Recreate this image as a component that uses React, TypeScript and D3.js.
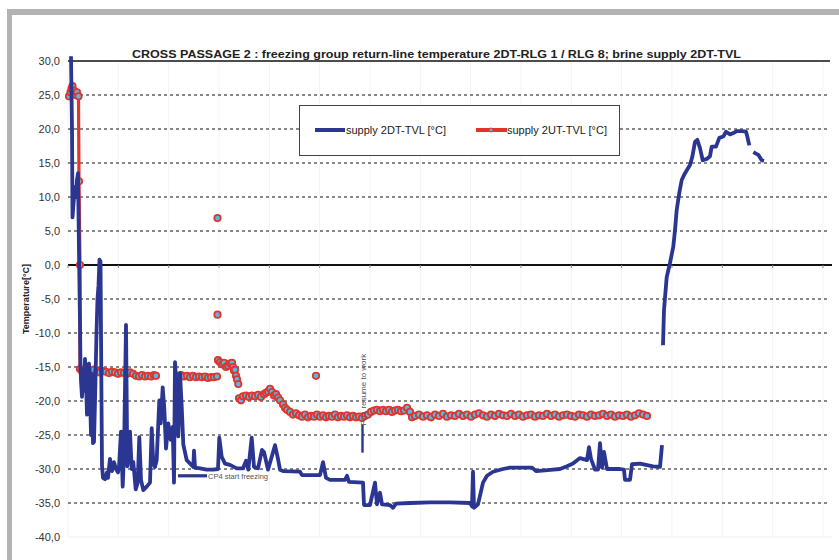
import React from 'react';
import * as d3 from 'd3';

const TITLE = 'CROSS PASSAGE 2 : freezing group return-line temperature 2DT-RLG 1 / RLG 8; brine supply 2DT-TVL';
const Y_LABEL = 'Temperature[°C]';
const SERIES_NAMES = ['supply 2DT-TVL [°C]', 'supply 2UT-TVL [°C]'];
const Y_TICKS = [30, 25, 20, 15, 10, 5, 0, -5, -10, -15, -20, -25, -30, -35, -40];
const X_MAX = 764;
const X_TICK_STEP = 50.33;
const X_TICK_COUNT = 16;

// time index, temperature (null = gap in recording)
const SUPPLY_2DT: [number, number | null][] = [
  [3, 30.7], [4, 20], [4.5, 7.0], [5.5, 9], [7, 11.5], [8, 10], [9, 12.5], [10, 13.5], [11, 2], [12, -8.5],
  [12.5, -15], [13, -17], [14, -19.4], [15, -15.5], [16, -18.5], [17, -13.8], [18, -17], [19, -22], [20, -15],
  [21, -14.5], [22, -19], [23, -25], [24, -16], [25, -26.2], [26, -26], [27, -20], [28.5, -10], [29.5, -5],
  [30.5, -3], [31.5, 0.8], [32.5, 0.5], [33, -10], [33.5, -20], [34, -29.5], [35, -31.3], [37, -31.5],
  [39, -30.5], [40, -31.3], [42, -28.5], [44, -30.3], [46, -29], [48, -30], [50, -30.5], [51, -29.7],
  [53, -24.5], [54.7, -32.6], [56, -27.7], [58, -8.8], [59.3, -29.6], [60.7, -27.7], [62, -24.5], [63.7, -30],
  [65.3, -29], [67.7, -33], [69.7, -32], [71.3, -25.3], [73, -31.6], [75.3, -33.1], [78.7, -32.6], [82, -32],
  [83.7, -24], [85.3, -29.2], [87, -29.7], [88.7, -28.7], [91.3, -19.9], [92.7, -23.3], [94.7, -18],
  [96.3, -21.1], [98, -27], [100.3, -23.3], [102.7, -25.7], [104.7, -23.8], [106, -32], [107, -14.3],
  [108.7, -18.3], [110.3, -25.2], [112, -15.9], [113.7, -20.8], [115.3, -26.4], [118.7, -28.7], [125.3, -29.7],
  [126, -27.3], [127, -29.8], [132, -29.9], [138.7, -30.1], [145.3, -30.1], [150, -30], [151.3, -25.4],
  [153.7, -28.2], [157, -29.2], [162, -29.4], [168.7, -29.9], [175, -29.9], [178, -28.8], [180.3, -30.1],
  [183.7, -25.4], [186, -29.7], [190, -29.9], [194, -27.2], [196, -27.5], [200, -30.1], [207, -26.5],
  [210, -28.5], [212, -30.1], [215, -30.3], [232, -30.4], [234, -30.9], [252, -30.9], [255, -29], [258, -31.3],
  [262, -31.6], [277, -31.6], [279, -31], [281, -31.9], [295, -32], [296, -35.3], [302, -35.3], [307, -32],
  [309, -35.2], [312, -33.5], [314, -35.2], [322, -35.3], [325, -35.7], [328, -35.1], [342, -35], [362, -34.9],
  [382, -34.9], [402, -35], [404, -35.5], [405, -30.4], [406, -35.7], [410, -35.2], [415, -32], [419, -31],
  [425, -30.4], [435, -30], [442, -29.8], [452, -29.8], [464, -29.8], [468, -30.3], [477, -30.2], [485, -30.1],
  [492, -30], [499, -29.6], [505, -29.2], [512, -28.4], [519, -28.7], [521, -26.8], [523, -28.5], [527, -30.1],
  [530, -30.1], [532, -26.2], [534, -29.8], [536, -27.5], [539, -30], [552, -30], [556, -30.1], [557, -31.6],
  [562, -31.6], [564, -29.3], [572, -29.2], [585, -29.6], [592, -29.7], [594, -26.5],
  [594.5, null],
  [595, -11.8], [596, -6.6], [598.7, -1.8], [602, 0.3], [605.3, 2.7], [607, 5.1], [608.7, 8.1], [611.3, 10.6],
  [613.7, 12.5], [617, 13.5], [622, 14.7], [624.3, 15.9], [627, 18.1], [629.3, 18.4], [632, 17.2], [634.7, 15.4],
  [638.7, 15.6], [642, 16.0], [643.7, 17.4], [648, 17.4], [651.3, 18.7], [655.3, 18.9], [658, 19.6], [662, 19.2],
  [665.3, 19.4], [668.7, 19.7], [673.7, 19.7], [678, 19.6], [679.3, 18.9], [681.3, 17.6],
  [683, null],
  [685.3, 16.6], [690.3, 16.2], [693.7, 15.4], [696, 15.3],
];

const SUPPLY_2UT: [number, number | null][] = [
  [1, 24.8], [2.5, 25.4], [3.5, 25.9], [4.5, 26.3], [6, 25.6], [7.5, 25.0], [9, 25.4], [10.5, 24.8],
  [11, 12.3], [12, 0], [12, -15.3], [14, -15.6], [17, -15.8], [20, -15.5], [23, -15.7], [26, -15.4],
  [29, -15.6], [32, -15.8], [35, -15.6], [38, -15.7], [41, -15.9], [44, -15.7], [47, -15.8], [50, -16.0],
  [53, -15.8], [56, -15.9], [59, -16.0], [62, -15.8], [65, -16.0], [68, -16.3], [71, -16.4], [74, -16.2],
  [77, -16.4], [80, -16.3], [83, -16.4], [86, -16.2], [88, -16.3],
  [95, null],
  [110, -16.3], [113, -16.2], [116, -16.4], [119, -16.3], [122, -16.5], [125, -16.3], [128, -16.5],
  [131, -16.4], [134, -16.5], [137, -16.4], [140, -16.6], [143, -16.5], [146, -16.5], [149, -16.4],
  [149.2, null], [149.5, 6.9], [149.6, null], [149.5, -7.3], [149.7, null],
  [150, -14.0], [152, -14.3], [154, -14.6], [156, -14.4], [158, -15.0], [160, -14.8], [162, -14.5],
  [164, -14.4], [165, -15.0], [166, -15.5], [167, -15.4], [168, -16.3], [169, -16.8],
  [169.5, null], [170.3, -17.5], [170.6, null],
  [171, -19.6], [173, -19.9], [175, -19.3], [178, -19.2], [181, -19.4], [184, -19.2], [187, -19.3],
  [190, -19.1], [193, -19.4], [196, -19.0], [198, -18.8], [200, -18.6], [202, -18.2], [204, -18.7],
  [206, -19.2], [208, -19.0], [210, -19.5], [212, -19.9], [215, -20.5], [217, -21.0], [219, -21.3],
  [222, -21.6], [225, -22.0], [228, -21.8], [231, -22.1], [234, -22.3], [237, -22.0], [240, -22.4],
  [243, -22.2], [246, -22.3], [249, -22.0], [252, -22.3], [255, -22.1], [258, -22.4], [261, -22.2],
  [264, -22.3], [267, -22.0], [270, -22.4], [273, -22.2], [276, -22.3], [279, -22.1], [282, -22.4],
  [285, -22.2], [288, -22.4], [291, -22.3], [294, -22.5], [297, -22.2], [300, -22.0], [303, -21.6],
  [306, -21.4], [309, -21.3], [312, -21.5], [315, -21.3], [318, -21.5], [321, -21.3], [324, -21.6],
  [327, -21.4], [330, -21.3], [333, -21.5], [336, -21.4], [339, -21.0], [342, -21.6], [344, -22.4],
  [347, -22.2], [351, -22.0], [355, -22.3], [359, -22.1], [363, -22.4], [367, -22.0], [371, -22.2],
  [375, -21.9], [379, -22.3], [383, -22.1], [387, -22.2], [391, -21.9], [395, -22.2], [399, -22.0],
  [403, -22.3], [407, -22.0], [411, -21.8], [415, -22.1], [419, -22.3], [423, -22.0], [427, -22.2],
  [431, -21.9], [435, -22.1], [439, -22.2], [443, -21.9], [447, -22.2], [451, -22.0], [455, -22.3],
  [459, -22.1], [463, -22.0], [467, -22.3], [471, -22.1], [475, -22.2], [479, -21.9], [483, -22.2],
  [487, -22.0], [491, -22.3], [495, -22.1], [499, -22.0], [503, -22.2], [507, -22.3], [511, -22.0],
  [515, -22.1], [519, -22.3], [523, -22.0], [527, -22.2], [531, -22.1], [535, -21.9], [539, -22.2],
  [543, -22.0], [547, -22.3], [551, -22.1], [555, -22.2], [559, -22.0], [563, -22.3], [567, -22.1],
  [571, -21.8], [575, -22.0], [579, -22.2],
  [580, null], [248, -16.3],
];

const ANNOTATIONS = [
  { label: 'CP4 start freezing', x0: 110, x1: 139, y: -31.0 },
];
const EVENT_MARKS = [
  { label: 'FU1 resume to work', x: 294.5, y0: -23.5, y1: -27.6 },
];

const W = 839;
const H = 560;
const BLUE = '#2b3592';
const RED = '#e0352c';
const CYAN = '#55b8e6';
const FONT = '"Liberation Sans", Arial, Helvetica, sans-serif';

export default function App() {
  const x = d3.scaleLinear().domain([0, X_MAX]).range([68, 832]);
  const y = d3.scaleLinear().domain([-40, 30]).range([537, 61]);
  const xTicks = d3.range(X_TICK_COUNT).map((i) => i * X_TICK_STEP);

  const line = d3
    .line<[number, number | null]>()
    .defined((d) => d[1] !== null)
    .x((d) => x(d[0]))
    .y((d) => y(d[1] as number));

  const fmt = (v: number) => v.toFixed(1).replace('.', ',');
  const redPts = SUPPLY_2UT.filter((d) => d[1] !== null);

  return (
    <div style={{ position: 'absolute', left: 0, top: 0 }}>
      <svg width={W} height={H} style={{ display: 'block', fontFamily: FONT }}>
        <rect x={0} y={0} width={W} height={H} fill="#fff" />
        {/* outer frame */}
        <rect x={7} y={9} width={W - 7} height={6} fill="#b3b3b3" />
        <rect x={7} y={9} width={5} height={H - 9} fill="#b3b3b3" />

        {/* faint vertical grid */}
        {xTicks.map((t, i) => (
          <line key={'vg' + i} x1={x(t)} x2={x(t)} y1={y(30)} y2={y(-40)} stroke="#f3f3f3" strokeWidth={1} />
        ))}
        <line x1={x(0)} x2={x(X_MAX)} y1={y(-40)} y2={y(-40)} stroke="#eeeeee" strokeWidth={1} />

        {/* horizontal grid */}
        {Y_TICKS.filter((v) => v !== 30 && v !== 0 && v !== -40).map((v) => (
          <line
            key={'hg' + v}
            x1={x(0)}
            x2={x(X_MAX) - 2}
            y1={y(v)}
            y2={y(v)}
            stroke="#111"
            strokeWidth={1}
            strokeDasharray="3,3"
          />
        ))}
        <line x1={x(0)} x2={x(X_MAX) - 2} y1={y(30)} y2={y(30)} stroke="#111" strokeWidth={1.3} />
        <line x1={x(0)} x2={x(X_MAX)} y1={y(0)} y2={y(0)} stroke="#111" strokeWidth={2.2} />
        {xTicks.map((t, i) => (
          <line key={'xt' + i} x1={x(t)} x2={x(t)} y1={y(0)} y2={y(0) + 3} stroke="#888" strokeWidth={1} />
        ))}

        {/* y tick labels */}
        {Y_TICKS.map((v) => (
          <text
            key={'yl' + v}
            x={60}
            y={y(v)}
            dy="0.35em"
            textAnchor="end"
            fontSize={11}
            fill="#333"
          >
            {fmt(v)}
          </text>
        ))}
        <text
          transform={`translate(29,${y(-5)}) rotate(-90)`}
          textAnchor="middle"
          fontSize={9}
          fontWeight="bold"
          fill="#222"
        >
          {Y_LABEL}
        </text>

        {/* title */}
        <text
          x={436.5}
          y={58}
          textAnchor="middle"
          fontSize={11}
          fontWeight="bold"
          fill="#222"
          textLength={609}
          lengthAdjust="spacingAndGlyphs"
        >
          {TITLE}
        </text>

        {/* red series */}
        <path d={line(SUPPLY_2UT) || ''} fill="none" stroke={RED} strokeWidth={3.2} strokeLinejoin="round" />
        {redPts.map((d, i) => (
          <circle
            key={'rp' + i}
            cx={x(d[0])}
            cy={y(d[1] as number)}
            r={3.2}
            fill={CYAN}
            stroke={RED}
            strokeWidth={1.8}
          />
        ))}

        {/* blue series */}
        <path
          d={line(SUPPLY_2DT) || ''}
          fill="none"
          stroke={BLUE}
          strokeWidth={3.8}
          strokeLinejoin="round"
        />

        {/* annotations */}
        {ANNOTATIONS.map((a) => (
          <g key={a.label}>
            <line x1={x(a.x0)} x2={x(a.x1)} y1={y(a.y)} y2={y(a.y)} stroke={BLUE} strokeWidth={3.2} />
            <text x={x(a.x1) + 1} y={y(a.y) + 3} fontSize={7.5} fill="#555">
              {a.label}
            </text>
          </g>
        ))}
        {EVENT_MARKS.map((a) => (
          <g key={a.label}>
            <line x1={x(a.x)} x2={x(a.x)} y1={y(a.y0)} y2={y(a.y1)} stroke={BLUE} strokeWidth={2.4} />
            <text
              transform={`translate(${x(a.x) + 3},${y(a.y0) + 1}) rotate(-90)`}
              fontSize={8}
              fill="#555"
            >
              {a.label}
            </text>
          </g>
        ))}

        {/* legend */}
        <rect x={299.5} y={105.5} width={320} height={50} fill="#fff" stroke="#444" strokeWidth={1} />
        <line x1={315} x2={345} y1={130} y2={130} stroke={BLUE} strokeWidth={4} />
        <text x={346} y={134} fontSize={11} fill="#222">
          {SERIES_NAMES[0]}
        </text>
        <line x1={476} x2={507} y1={130} y2={130} stroke={RED} strokeWidth={4} />
        <circle cx={491} cy={130} r={2} fill={CYAN} stroke={RED} strokeWidth={1} />
        <text x={507} y={134} fontSize={11} fill="#222">
          {SERIES_NAMES[1]}
        </text>
      </svg>
    </div>
  );
}
